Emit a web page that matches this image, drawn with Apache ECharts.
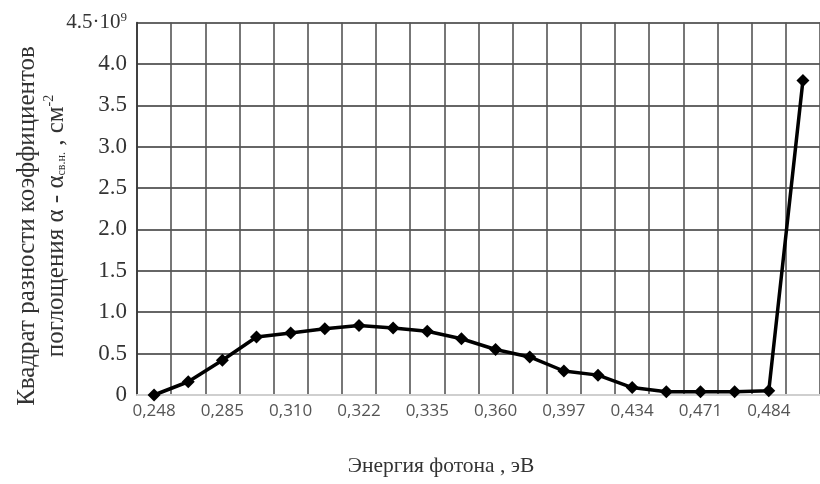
<!DOCTYPE html>
<html>
<head>
<meta charset="utf-8">
<script src="https://cdn.jsdelivr.net/npm/echarts@6/dist/echarts.min.js"></script>
<style>html,body{margin:0;padding:0;background:#fff;}#c{width:820px;height:484px;}</style>
</head>
<body>
<div id="c"></div>
<script>
// photon energy, eV (only every second category is labelled in the source)
const categories = ['0,248','','0,285','','0,310','','0,322','','0,335','','0,360','','0,397','','0,434','','0,471','','0,484',''];
// (alpha - alpha_sv.n.)^2, units of 10^9 cm^-2
const values = [0, 0.16, 0.42, 0.70, 0.75, 0.80, 0.84, 0.81, 0.77, 0.68, 0.55, 0.46, 0.29, 0.24, 0.09, 0.04, 0.04, 0.04, 0.05, 3.80];
const yTicks = [0, 0.5, 1.0, 1.5, 2.0, 2.5, 3.0, 3.5, 4.0, 4.5];
const xTitle = 'Энергия фотона , эВ';

const chart = echarts.init(document.getElementById('c'));
const serif = '"Liberation Serif", "Times New Roman", serif';
chart.setOption({
  backgroundColor: '#fff',
  animation: false,
  grid: { left: 137, right: -9, top: 22.5, bottom: 89, containLabel: false },
  xAxis: {
    type: 'category',
    data: categories,
    boundaryGap: true,
    axisLine: { show: true, lineStyle: { color: '#cfcfcf', width: 2 } },
    axisTick: { show: false },
    axisLabel: { interval: 0, color: '#555', fontFamily: '"Open Sans", sans-serif', fontSize: 17, margin: 8 },
    splitLine: { show: true, interval: 0, lineStyle: { color: '#555', width: 1.6 } }
  },
  yAxis: {
    type: 'value',
    min: yTicks[0],
    max: yTicks[yTicks.length - 1],
    interval: 0.5,
    axisLine: { show: true, lineStyle: { color: '#333', width: 1.6 } },
    axisTick: { show: false },
    axisLabel: {
      color: '#333', fontFamily: serif, fontSize: 23, margin: 10,
      formatter: function (v) {
        if (v === 0) return '0';
        if (Math.abs(v - 4.5) < 1e-9) return '{a|4.5·10}{s|9}';
        return v.toFixed(1);
      },
      rich: {
        a: { fontFamily: serif, fontSize: 21, color: '#333' },
        s: { fontFamily: serif, fontSize: 13, color: '#333', verticalAlign: 'top', padding: [0, 0, 10, 0] }
      }
    },
    splitLine: { show: true, lineStyle: { color: '#333', width: 1.6 } }
  },
  graphic: [
    {
      type: 'text', x: 42, y: 226, rotation: Math.PI / 2,
      style: {
        text: 'Квадрат разности коэффициентов\n{t|поглощения α - α}{sub|св.н.}{t| , см}{sup|-2}',
        font: '25px ' + serif, fill: '#333', align: 'center', verticalAlign: 'middle', lineHeight: 29,
        rich: {
          t: { fontFamily: serif, fontSize: 25, fill: '#333' },
          sub: { fontFamily: serif, fontSize: 12, fill: '#333', padding: [11, 0, 0, 0] },
          sup: { fontFamily: serif, fontSize: 14, fill: '#333', padding: [0, 0, 14, 0] }
        }
      }
    },
    {
      type: 'text', x: 441, y: 466,
      style: { text: xTitle, font: '21.5px ' + serif, fill: '#333', align: 'center', verticalAlign: 'middle' }
    }
  ],
  series: [{
    type: 'line',
    data: values,
    symbol: 'diamond',
    symbolSize: 13,
    lineStyle: { color: '#000', width: 3.5 },
    itemStyle: { color: '#000' },
    clip: false
  }]
});
</script>
</body>
</html>
